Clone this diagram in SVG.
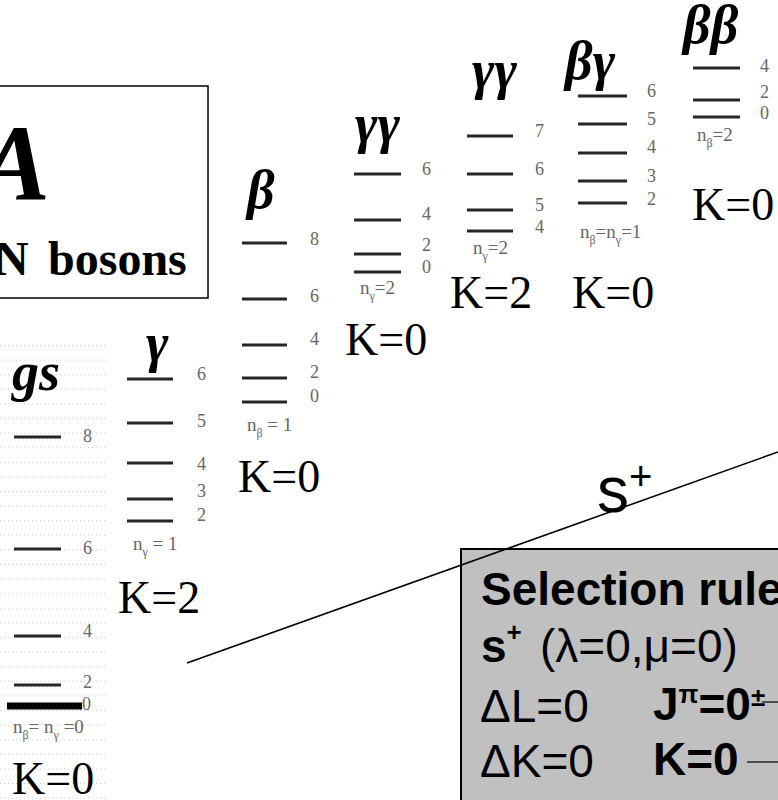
<svg xmlns="http://www.w3.org/2000/svg" width="778" height="800" viewBox="0 0 778 800">
<style>
.lv{stroke:#262626;stroke-width:3}
.num{font-family:"Liberation Serif","Times New Roman",serif;font-size:18px;fill:#666}
.sub{font-family:"Liberation Serif","Times New Roman",serif;font-size:19px;fill:#666}
.k{font-family:"Liberation Serif","Times New Roman",serif;font-size:46px;fill:#000}
.gr{font-family:"Liberation Serif","Times New Roman",serif;font-size:54px;font-weight:bold;font-style:italic;fill:#000}
.sans{font-family:"Liberation Sans",Arial,sans-serif;font-size:46px;fill:#000}
.b{font-weight:bold}
.conn{stroke:#000;stroke-width:1.6;fill:none}
</style>
<defs>
<pattern id="dots" x="0" y="345" width="4" height="14.6" patternUnits="userSpaceOnUse">
<rect width="1" height="1" fill="#c8c8c8"/>
</pattern>
</defs>
<rect width="778" height="800" fill="#fff"/>
<rect x="0" y="345" width="107" height="455" fill="url(#dots)"/>

<g id="box-iba">
<rect x="-10" y="86" width="218" height="212" fill="#fff" stroke="#000" stroke-width="1.5"/>
<text x="50" y="200" font-family="'Liberation Serif','Times New Roman',serif" font-size="108" font-weight="bold" font-style="italic" text-anchor="end">A</text>
<text y="275" font-family="'Liberation Serif','Times New Roman',serif" font-size="48" font-weight="bold"><tspan x="-6">N </tspan><tspan x="48">bosons</tspan></text>
</g>

<g id="band-gs">
<text class="gr" x="12" y="390">gs</text>
<line class="lv" x1="14" y1="437" x2="61" y2="437"/>
<line class="lv" x1="14" y1="549" x2="61" y2="549"/>
<line class="lv" x1="14" y1="636" x2="61" y2="636"/>
<line class="lv" x1="14" y1="685" x2="61" y2="685"/>
<line x1="7" y1="706" x2="82" y2="706" stroke="#000" stroke-width="7"/>
<text class="num" x="83" y="442">8</text>
<text class="num" x="83" y="554">6</text>
<text class="num" x="83" y="637">4</text>
<text class="num" x="83" y="688">2</text>
<text class="num" x="82" y="710">0</text>
<text class="sub" x="13" y="733">n<tspan dy="6" font-size="12">β</tspan><tspan dy="-6">= n</tspan><tspan dy="6" font-size="12">γ</tspan><tspan dy="-6"> =0</tspan></text>
<text class="k" x="12" y="794">K=0</text>
</g>

<g id="band-gamma">
<text class="gr" x="146" y="361">γ</text>
<line class="lv" x1="127" y1="379" x2="173" y2="379"/>
<line class="lv" x1="127" y1="423" x2="173" y2="423"/>
<line class="lv" x1="127" y1="463" x2="173" y2="463"/>
<line class="lv" x1="127" y1="499" x2="173" y2="499"/>
<line class="lv" x1="127" y1="521" x2="173" y2="521"/>
<text class="num" x="197" y="380">6</text>
<text class="num" x="197" y="427">5</text>
<text class="num" x="197" y="470">4</text>
<text class="num" x="197" y="497">3</text>
<text class="num" x="197" y="521">2</text>
<text class="sub" x="133" y="550">n<tspan dy="6" font-size="12">γ</tspan><tspan dy="-6"> = 1</tspan></text>
<text class="k" x="118" y="613">K=2</text>
</g>

<g id="band-beta">
<text class="gr" x="247" y="208">β</text>
<line class="lv" x1="242" y1="243" x2="287" y2="243"/>
<line class="lv" x1="242" y1="299" x2="287" y2="299"/>
<line class="lv" x1="242" y1="345" x2="287" y2="345"/>
<line class="lv" x1="242" y1="378" x2="287" y2="378"/>
<line class="lv" x1="242" y1="402" x2="287" y2="402"/>
<text class="num" x="310" y="245">8</text>
<text class="num" x="310" y="302">6</text>
<text class="num" x="310" y="345">4</text>
<text class="num" x="310" y="378">2</text>
<text class="num" x="310" y="402">0</text>
<text class="sub" x="247" y="431">n<tspan dy="6" font-size="12">β</tspan><tspan dy="-6"> = 1</tspan></text>
<text class="k" x="238" y="492">K=0</text>
</g>

<g id="band-gammagamma-k0">
<text class="gr" x="355" y="142">γγ</text>
<line class="lv" x1="354" y1="174" x2="401" y2="174"/>
<line class="lv" x1="354" y1="220" x2="401" y2="220"/>
<line class="lv" x1="354" y1="254" x2="401" y2="254"/>
<line class="lv" x1="354" y1="272" x2="401" y2="272"/>
<text class="num" x="422" y="175">6</text>
<text class="num" x="422" y="220">4</text>
<text class="num" x="422" y="251">2</text>
<text class="num" x="422" y="273">0</text>
<text class="sub" x="360" y="294">n<tspan dy="6" font-size="12">γ</tspan><tspan dy="-6">=2</tspan></text>
<text class="k" x="345" y="355">K=0</text>
</g>

<g id="band-gammagamma-k2">
<text class="gr" x="472" y="88">γγ</text>
<line class="lv" x1="467" y1="136" x2="513" y2="136"/>
<line class="lv" x1="467" y1="174" x2="513" y2="174"/>
<line class="lv" x1="467" y1="210" x2="513" y2="210"/>
<line class="lv" x1="467" y1="231" x2="513" y2="231"/>
<text class="num" x="535" y="137">7</text>
<text class="num" x="535" y="175">6</text>
<text class="num" x="535" y="211">5</text>
<text class="num" x="535" y="233">4</text>
<text class="sub" x="473" y="254">n<tspan dy="6" font-size="12">γ</tspan><tspan dy="-6">=2</tspan></text>
<text class="k" x="450" y="308">K=2</text>
</g>

<g id="band-betagamma">
<text class="gr" x="565" y="79">βγ</text>
<line class="lv" x1="578" y1="96" x2="627" y2="96"/>
<line class="lv" x1="578" y1="124" x2="627" y2="124"/>
<line class="lv" x1="578" y1="153" x2="627" y2="153"/>
<line class="lv" x1="578" y1="181" x2="627" y2="181"/>
<line class="lv" x1="578" y1="203" x2="627" y2="203"/>
<text class="num" x="647" y="97">6</text>
<text class="num" x="647" y="125">5</text>
<text class="num" x="647" y="153">4</text>
<text class="num" x="647" y="182">3</text>
<text class="num" x="647" y="205">2</text>
<text class="sub" x="580" y="238">n<tspan dy="6" font-size="12">β</tspan><tspan dy="-6">=n</tspan><tspan dy="6" font-size="12">γ</tspan><tspan dy="-6">=1</tspan></text>
<text class="k" x="572" y="308">K=0</text>
</g>

<g id="band-betabeta">
<text class="gr" x="683" y="43">ββ</text>
<line class="lv" x1="693" y1="68" x2="740" y2="68"/>
<line class="lv" x1="693" y1="100" x2="740" y2="100"/>
<line class="lv" x1="693" y1="117" x2="740" y2="117"/>
<text class="num" x="760" y="72">4</text>
<text class="num" x="760" y="98">2</text>
<text class="num" x="760" y="119">0</text>
<text class="sub" x="697" y="141">n<tspan dy="6" font-size="12">β</tspan><tspan dy="-6">=2</tspan></text>
<text class="k" x="692" y="220">K=0</text>
</g>

<g id="box-selection">
<rect x="461" y="549" width="330" height="260" fill="#c0c0c0" stroke="#000" stroke-width="2"/>
<text class="sans b" x="481" y="605">Selection rule</text>
<text class="sans" x="481" y="662"><tspan class="b">s</tspan><tspan class="b" font-size="26" dy="-21">+</tspan></text>
<text class="sans" x="540" y="662">(λ=0,μ=0)</text>
<text class="sans" x="480" y="722">ΔL=0</text>
<text class="sans b" x="653" y="720">J<tspan font-size="26" dy="-17">π</tspan><tspan dy="17">=0</tspan><tspan font-size="26" dy="-14">±</tspan></text>
<text class="sans" x="480" y="777">ΔK=0</text>
<text class="sans b" x="653" y="775">K=0</text>
</g>

<g id="connectors">
<line class="conn" x1="187" y1="663" x2="778" y2="452"/>
<text font-family="'Liberation Sans',Arial,sans-serif" font-size="64" x="597" y="512">s<tspan font-size="40" dy="-22">+</tspan></text>
<line x1="762" y1="702" x2="778" y2="702" stroke="#000" stroke-width="1.2"/>
<line x1="747" y1="762" x2="778" y2="762" stroke="#000" stroke-width="1.2"/>
</g>
</svg>
